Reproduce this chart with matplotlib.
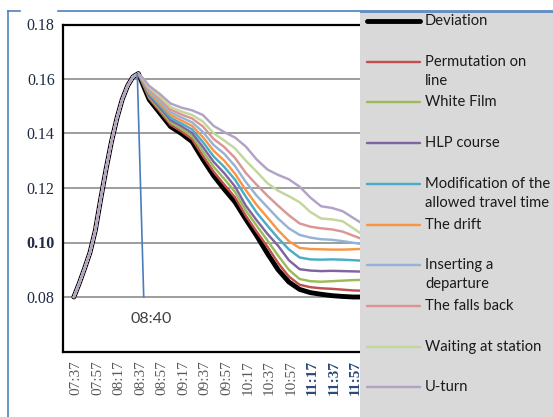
import matplotlib
matplotlib.use("Agg")
import matplotlib.pyplot as plt
from matplotlib.lines import Line2D

# sample times: every 5 min on the rise, every 10 min after
times = ["07:35", "07:40", "07:45", "07:50", "07:55", "08:00", "08:05", "08:10",
         "08:15", "08:20", "08:25", "08:30", "08:35", "08:40", "08:45",
         "08:55", "09:05", "09:15", "09:25", "09:35", "09:45", "09:55", "10:05",
         "10:15", "10:25", "10:35", "10:45", "10:55", "11:05", "11:15", "11:25",
         "11:35", "11:45", "11:55", "12:05"]
tick_labels = ["07:37", "07:57", "08:17", "08:37", "08:57", "09:17", "09:37",
               "09:57", "10:17", "10:37", "10:57", "11:17", "11:37", "11:57"]

rise = [0.0800, 0.0850, 0.0905, 0.0963, 0.1045, 0.1160, 0.1270, 0.1370,
        0.1455, 0.1525, 0.1575, 0.1608, 0.1620]

deviation = rise + [0.1572, 0.1525, 0.1475, 0.1425, 0.1400, 0.1370, 0.1305, 0.1245, 0.1195, 0.1148, 0.1085,
                    0.1025, 0.0960, 0.0900, 0.0855, 0.0828, 0.0816, 0.0810, 0.0805, 0.0802, 0.0800, 0.0800]
permutation = rise + [0.1575, 0.1529, 0.1481, 0.1432, 0.1408, 0.1379, 0.1318, 0.1260, 0.1212, 0.1165, 0.1098,
                      0.1040, 0.0985, 0.0925, 0.0875, 0.0845, 0.0836, 0.0832, 0.0830, 0.0827, 0.0824, 0.0823]
white_film = rise + [0.1578, 0.1534, 0.1488, 0.1440, 0.1417, 0.1391, 0.1334, 0.1278, 0.1233, 0.1185, 0.1117,
                     0.1062, 0.1008, 0.0952, 0.0900, 0.0866, 0.0858, 0.0856, 0.0858, 0.0860, 0.0862, 0.0863]
hlp = rise + [0.1581, 0.1539, 0.1495, 0.1449, 0.1427, 0.1402, 0.1351, 0.1296, 0.1254, 0.1205, 0.1135,
              0.1082, 0.1032, 0.0988, 0.0935, 0.0902, 0.0897, 0.0895, 0.0896, 0.0895, 0.0894, 0.0893]
modification = rise + [0.1584, 0.1545, 0.1502, 0.1458, 0.1437, 0.1415, 0.1369, 0.1316, 0.1277, 0.1230, 0.1168,
                       0.1110, 0.1062, 0.1016, 0.0975, 0.0945, 0.0938, 0.0937, 0.0938, 0.0937, 0.0935, 0.0933]
drift = rise + [0.1587, 0.1550, 0.1510, 0.1468, 0.1448, 0.1428, 0.1387, 0.1337, 0.1300, 0.1252, 0.1192,
                0.1138, 0.1092, 0.1045, 0.1005, 0.0980, 0.0976, 0.0975, 0.0974, 0.0974, 0.0975, 0.0977]
inserting = rise + [0.1590, 0.1556, 0.1518, 0.1478, 0.1459, 0.1441, 0.1406, 0.1358, 0.1325, 0.1280, 0.1222,
                    0.1172, 0.1130, 0.1088, 0.1052, 0.1028, 0.1018, 0.1012, 0.1010, 0.1005, 0.0999, 0.0993]
falls_back = rise + [0.1593, 0.1562, 0.1527, 0.1488, 0.1470, 0.1455, 0.1426, 0.1380, 0.1350, 0.1310, 0.1255,
                     0.1212, 0.1172, 0.1135, 0.1100, 0.1070, 0.1058, 0.1052, 0.1048, 0.1040, 0.1025, 0.1010]
waiting = rise + [0.1596, 0.1568, 0.1535, 0.1497, 0.1481, 0.1468, 0.1444, 0.1401, 0.1374, 0.1345, 0.1300,
                  0.1260, 0.1218, 0.1190, 0.1170, 0.1148, 0.1112, 0.1088, 0.1085, 0.1078, 0.1052, 0.1025]
u_turn = rise + [0.1600, 0.1575, 0.1545, 0.1510, 0.1495, 0.1485, 0.1468, 0.1428, 0.1405, 0.1385, 0.1352,
                 0.1305, 0.1268, 0.1248, 0.1232, 0.1205, 0.1165, 0.1133, 0.1127, 0.1115, 0.1090, 0.1065]

names = ["Deviation", "Permutation on\nline", "White Film", "HLP course",
         "Modification of the\nallowed travel time", "The drift", "Inserting a\ndeparture",
         "The falls back", "Waiting at station", "U-turn"]
series = [deviation, permutation, white_film, hlp, modification, drift, inserting,
          falls_back, waiting, u_turn]
colors = ["#000000", "#C0504D", "#9BBB59", "#8064A2", "#4BACC6", "#F79646",
          "#95B3D7", "#D99694", "#C3D69B", "#B3A2C7"]

peak_time, peak_val = "08:34", 0.162
mark_time, mark_val = "08:40", 0.080


def to_min(s):
    h, m = s.split(":")
    return int(h) * 60 + int(m)


x = [to_min(t) for t in times]
ticks = [to_min(t) for t in tick_labels]

W, H = 553, 417
fig = plt.figure(figsize=(W / 100, H / 100), dpi=100)

# outer frame (pixel coords)
bg = fig.add_axes([0, 0, 1, 1])
bg.set_xlim(0, W)
bg.set_ylim(H, 0)
bg.axis("off")
fc = "#4F81BD"
bg.plot([8, 20], [11, 11], color=fc, lw=1.2)
bg.plot([58, W], [11, 11], color=fc, lw=1.2)
bg.plot([8, 8], [11, H], color=fc, lw=1.2)

# main plot
l, r, t, b = 63, 360, 24.5, 351.5
ax = fig.add_axes([l / W, 1 - b / H, (r - l) / W, (b - t) / H])
ax.set_xlim(444.9, 721.2)
ax.set_ylim(0.06, 0.18)
for s in ["left", "bottom", "top"]:
    ax.spines[s].set_linewidth(1.6)
    ax.spines[s].set_color("black")
ax.spines["right"].set_visible(False)
ax.set_yticks([0.08, 0.10, 0.12, 0.14, 0.16, 0.18])
ax.yaxis.grid(True, color="#8C8C8C", lw=1.2)
ax.set_axisbelow(True)
ax.tick_params(length=0)
ylabels = ax.set_yticklabels(["0.08", "0.10", "0.12", "0.14", "0.16", "0.18"],
                             family="Liberation Serif", fontsize=11.5, color="#1F2A44")
ylabels[1].set_fontweight("bold")
ax.tick_params(axis="y", pad=6)
ax.set_xticks(ticks)
xl = ax.set_xticklabels(tick_labels, rotation=90, family="Liberation Serif",
                        fontsize=11, color="#595959", va="top")
for lab in xl[-3:]:
    lab.set_fontweight("bold")
    lab.set_color("#2B4A7A")
ax.tick_params(axis="x", pad=6)

for i, (vals, c) in enumerate(zip(series, colors)):
    if i == 0:
        ax.plot(x, vals, color=c, lw=3.5, solid_capstyle="round",
                solid_joinstyle="round", zorder=2)
    else:
        ax.plot(x, vals, color=c, lw=1.75, solid_capstyle="round",
                solid_joinstyle="round", zorder=3 + i)

ax.plot([to_min(peak_time), to_min(mark_time)], [peak_val, mark_val],
        color="#4A7EBB", lw=1.2, zorder=20)
ax.text(to_min(mark_time) + 7, 0.0718, mark_time, fontsize=11.5, family="Lato",
        color="#404040", ha="center", va="center", zorder=21)

# legend panel
lg = fig.add_axes([360 / W, 0, (W - 360) / W, (H - 11) / H])
lg.set_facecolor("#D9D9D9")
lg.set_xlim(360, W)
lg.set_ylim(H, 11)
lg.set_xticks([])
lg.set_yticks([])
for s in lg.spines.values():
    s.set_visible(False)
lg.axhline(11.6, color=fc, lw=1.2)
for i, (nm, c) in enumerate(zip(names, colors)):
    yy = 21 + i * 40.7
    lg.add_line(Line2D([367, 420], [yy, yy], color=c,
                       lw=3.5 if i == 0 else 1.75, solid_capstyle="round"))
    for j, part in enumerate(nm.split("\n")):
        lg.text(425, yy + j * 19, part, fontsize=10.6, family="Lato",
                color="#1A1A1A", va="center", ha="left")

fig.savefig("out.png", dpi=100)
